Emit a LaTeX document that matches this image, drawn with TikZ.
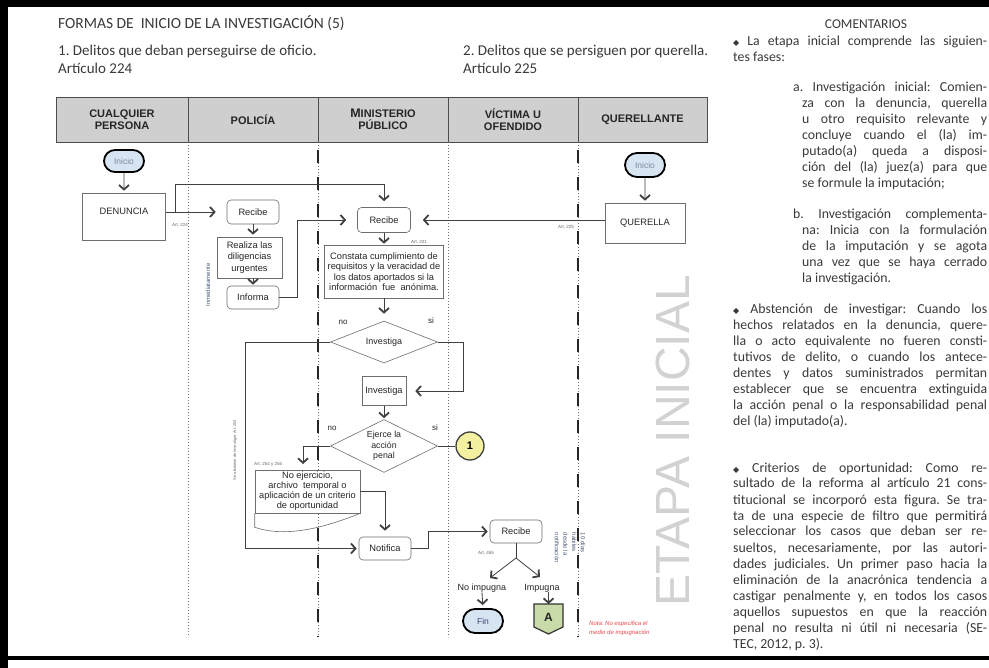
\documentclass[tikz,border=0pt]{standalone}
\usepackage{fontspec}
\setmainfont{Liberation Sans}
\newfontfamily\gill{Carlito}
\newfontfamily\dejavu{DejaVu Sans}
\usetikzlibrary{arrows.meta,shapes.geometric,shapes.misc,calc}
\frenchspacing

\definecolor{hdrgray}{HTML}{CFCFCF}
\definecolor{pillblue}{HTML}{D7E4F2}
\definecolor{inktxt}{HTML}{3A3A3A}
\definecolor{boxline}{HTML}{6E6E6E}
\definecolor{cyellow}{HTML}{F3F0A2}
\definecolor{agreen}{HTML}{C8DBA9}
\definecolor{notered}{HTML}{E8484F}
\definecolor{rotblue}{HTML}{4A5A7A}
\definecolor{pilltxt}{HTML}{7D8BA2}
\definecolor{watermark}{HTML}{D2D2D2}

\newcommand{\bul}{{\dejavu\fontsize{8}{8}\selectfont\char"25C6}}
\newcommand{\jline}[4]{\node[cmt, anchor=base west] (#1) at (#2) {\makebox[#3][s]{#4}};}
\newcommand{\fline}[3]{\node[cmt, anchor=base west] (#1) at (#2) {#3};}

\tikzset{
  hdr/.style={draw=black!70, line width=0.7pt, fill=hdrgray, minimum height=45pt,
    inner sep=0pt, align=center, font=\bfseries\fontsize{11}{12}\selectfont, text=black!85},
  box/.style={draw=boxline, line width=0.6pt, fill=white, inner sep=1pt, align=center,
    font=\fontsize{9.3}{10.5}\selectfont, text=black!85},
  rbox/.style={box, rounded corners=4pt},
  pill/.style={rounded rectangle, draw=black, line width=1.8pt, fill=pillblue,
    minimum width=40pt, minimum height=22pt, inner sep=0pt,
    font=\fontsize{8.5}{9}\selectfont, text=pilltxt},
  dia/.style={diamond, draw=boxline, line width=0.6pt, fill=white, inner sep=0pt},
  lbl/.style={inner sep=0pt, align=center, font=\fontsize{9}{10.5}\selectfont, text=black!85},
  tiny/.style={inner sep=0pt, font=\fontsize{4.5}{5}\selectfont, text=black!60},
  rot/.style={inner sep=0pt, align=left, font=\fontsize{6}{8.7}\selectfont, text=rotblue},
  flow/.style={draw=black!75, line width=0.8pt},
  arr/.style={flow, -{Straight Barb[length=4.5pt, width=10pt, line width=1.8pt]}},
  lanedot/.style={draw=black!55, line width=0.7pt, dash pattern=on 0.8pt off 2.2pt},
  lanedash/.style={draw=black!85, line width=2pt, dash pattern=on 13pt off 14pt},
  gtext/.style={inner sep=0pt, font=\gill\fontsize{15.5}{17}\selectfont, text=inktxt},
  stext/.style={inner sep=0pt, font=\gill\fontsize{15}{16}\selectfont, text=inktxt},
  cmt/.style={inner sep=0pt, font=\gill\fontsize{13.8}{15}\selectfont, text=inktxt},
}

\begin{document}
\begin{tikzpicture}[x=1pt,y=-1pt]
\useasboundingbox (0,0) rectangle (989,668);
\fill[white] (0,0) rectangle (989,668);

% page frame
\fill[black] (0,0) rectangle (989,7);
\fill[black] (0,0) rectangle (8,668);
\fill[black] (0,656) rectangle (989,660);

% headings
\node[gtext, anchor=base west] (title) at (58,29) {FORMAS DE \ INICIO DE LA INVESTIGACIÓN (5)};
\node[stext, anchor=base west] (sub1) at (58,56) {1. Delitos que deban perseguirse de oficio.};
\node[stext, anchor=base west] (sub1b) at (58,74) {Artículo 224};
\node[stext, anchor=base west] (sub2) at (463,56) {2. Delitos que se persiguen por querella.};
\node[stext, anchor=base west] (sub2b) at (463,74) {Artículo 225};
\node[cmt, anchor=base, font=\gill\fontsize{13.5}{15}\selectfont] (coment) at (866,29) {COMENTARIOS};

% watermark
\node[rotate=90, inner sep=0pt, font=\fontsize{48}{48}\selectfont, text=watermark] (etapa) at (673,441) {ETAPA INICIAL};

% swimlane header
\node[hdr, minimum width=132pt] (hA) at (122,119.5) {CUALQUIER\\PERSONA};
\node[hdr, minimum width=130pt] (hB) at (253,119.5) {POLICÍA};
\node[hdr, minimum width=130pt] (hC) at (383,119.5) {{\fontsize{12.5}{12}\selectfont M}INISTERIO\\PÚBLICO};
\node[hdr, minimum width=130pt] (hD) at (513,119.5) {VÍCTIMA U\\OFENDIDO};
\node[hdr, minimum width=129pt] (hE) at (642.5,119.5) {QUERELLANTE};

% lane separators
\draw[lanedot] (188,142) -- (188,637);
\draw[lanedot] (448,142) -- (448,637);
\draw[lanedot] (318,142) -- (318,637);
\draw[lanedash] (318,150) -- (318,637);
\draw[lanedot] (578,142) -- (578,637);
\draw[lanedash] (578,150) -- (578,637);

% rotated notes
\node[rot, rotate=90] (inmed) at (208,285) {Inmediatamente};
\node[tiny, rotate=90, font=\fontsize{4}{5}\selectfont] (abst) at (235,450) {Se abstiene de investigar Art. 253};
\node[rot, rotate=-90] (plazo) at (570,548) {10 días\\hábiles\\desde la\\notificación};

% nodes
\node[pill] (iniA) at (124,161) {Inicio};
\node[box, minimum width=83pt, minimum height=47pt] (denuncia) at (124,216.5) {DENUNCIA\\\phantom{D}};
\node[rbox, minimum width=52pt, minimum height=24pt] (recP) at (253,212) {Recibe};
\node[box, minimum width=65pt, minimum height=41pt, font=\fontsize{9.3}{11.3}\selectfont] (realiza) at (249.5,257.5) {Realiza las\\diligencias\\urgentes};
\node[rbox, minimum width=52pt, minimum height=23pt] (informa) at (253,297.5) {Informa};
\node[rbox, minimum width=53pt, minimum height=25pt] (recMP) at (384,220) {Recibe};
\node[box, minimum width=119pt, minimum height=53pt, font=\fontsize{9.3}{10.4}\selectfont] (constata) at (384,271.5) {Constata cumplimiento de\\requisitos y la veracidad de\\los datos aportados si la\\información \ fue \ anónima.};
\node[pill, minimum height=24pt] (iniQ) at (645,165) {Inicio};
\node[box, minimum width=80pt, minimum height=40pt] (querella) at (645,223) {QUERELLA};

\node[dia, minimum width=107pt, minimum height=42pt] (d1) at (384,342) {};
\node[lbl] (d1t) at (d1) {Investiga};
\node[box, minimum width=44pt, minimum height=29pt] (inv) at (384,391) {Investiga};
\node[dia, minimum width=107pt, minimum height=53pt] (d2) at (384,446) {};
\node[lbl, font=\fontsize{8.8}{10.5}\selectfont] (d2t) at (d2) {Ejerce la\\acción\\penal};
\node[circle, draw=black!75, line width=1.3pt, fill=cyellow, minimum size=28pt, inner sep=0pt,
  font=\bfseries\fontsize{11}{11}\selectfont] (c1) at (470,446) {1};

\node[box, minimum width=105pt, minimum height=43pt, font=\fontsize{9.2}{10}\selectfont] (noej) at (307.5,491.5) {No ejercicio,\\archivo \ temporal o\\aplicación de un criterio\\de oportunidad};
\draw[draw=boxline, line width=0.6pt] (noej.south west) -- ++(0,14)
  .. controls ++(30,10) and ++(-40,16) .. (noej.south east);

\node[rbox, minimum width=52pt, minimum height=23pt] (notif) at (385,548.5) {Notifica};
\node[rbox, minimum width=52pt, minimum height=23pt] (recV) at (516,531.5) {Recibe};
\coordinate (split) at (516,558);
\coordinate (tipL) at (490,578);
\coordinate (tipR) at (540,577);
\node[lbl] (noimp) at (482,588) {No impugna};
\node[lbl] (imp) at (542,588) {Impugna};
\node[pill, minimum height=24pt, text=black!60!blue!50!gray] (fin) at (483,621) {Fin};
\draw[draw=black!80, line width=1.2pt, fill=agreen] (534,604) -- (563,604) -- (563,627) -- (548.5,634) -- (534,627) -- cycle;
\coordinate (Atop) at (548.5,604);
\node[inner sep=0pt, font=\bfseries\fontsize{12}{12}\selectfont, text=black!85] (conA) at (548.5,617) {A};

% small references
\node[tiny, anchor=west] (art224) at (172,225) {Art. 224};
\node[tiny] (art221) at (419,242) {Art. 221};
\node[tiny, anchor=east] (art225) at (574,227) {Art. 225};
\node[tiny, anchor=west] (art254) at (254,464) {Art. 254 y 255};
\node[tiny] (art455) at (486,553) {Art. 455};

% yes / no labels
\node[lbl, font=\fontsize{8}{9}\selectfont] (no1) at (343,322) {no};
\node[lbl, font=\fontsize{8}{9}\selectfont] (si1) at (431,321) {si};
\node[lbl, font=\fontsize{8}{9}\selectfont] (no2) at (332,428) {no};
\node[lbl, font=\fontsize{8}{9}\selectfont] (si2) at (435,428) {si};

\node[anchor=north west, inner sep=0pt, align=left, font=\itshape\fontsize{6}{8.5}\selectfont, text=notered] (nota) at (589,621) {Nota: No especifica el\\medio de impugnación};

% connectors
\coordinate (br) at (175,212);
\coordinate (brtop) at (175,184);
\draw[arr, shorten >=2pt] (iniA) -- (denuncia);
\draw[arr, shorten >=11pt] (denuncia.east |- recP) -- (recP.west);
\draw[arr, shorten >=6pt] (br) -- (brtop) -| (recMP.north);
\draw[arr, shorten >=2pt] (recP.south) -- (recP.south |- realiza.north);
\draw[arr, shorten >=1pt] (realiza.south -| informa) -- (informa.north);
\draw[arr, shorten >=11pt] (informa.east) -- ++(18,0) |- (recMP.west);
\draw[arr, shorten >=2pt] (iniQ) -- (querella);
\draw[arr, shorten >=12pt] (querella.west |- recMP) -- (recMP.east);
\draw[arr, shorten >=1pt] (recMP) -- (constata);
\draw[arr, shorten >=7pt] (constata) -- (d1);
\draw[arr, shorten >=9pt] (d1.east) -- ++(26,0) |- (inv.east);
\draw[arr, shorten >=1pt] (inv) -- (d2);
\draw[flow] (d2.east) -- (c1.west);
\coordinate (noejin) at (303,470);
\draw[arr, shorten >=6pt] (d2.west) -| (noejin);
\draw[arr, shorten >=2pt] (d1.west) -- ++(-85,0) |- (notif.west);
\draw[arr, shorten >=6pt] (noej.east) -| (notif.north);
\draw[arr, shorten >=2pt] (notif.east) -- ++(17,0) |- (recV.west);
\draw[flow] (recV.south) -- (split);
\draw[arr] (split) -- (tipL);
\draw[arr] (split) -- (tipR);
\draw[arr, shorten >=3pt] (noimp.south) -- (fin.north);
\draw[arr] (imp.south -| Atop) -- (Atop);

% commentary column
\jline{ca1}{733,46}{254pt}{\bul\ La etapa inicial comprende las siguien-}
\fline{ca2}{733,62}{tes fases:}
\jline{ca3}{793,92}{194pt}{a. Investigación inicial: Comien-}
\jline{ca4}{802,108}{185pt}{za con la denuncia, querella}
\jline{ca5}{802,124}{185pt}{u otro requisito relevante y}
\jline{ca6}{802,140}{185pt}{concluye cuando el (la) im-}
\jline{ca7}{802,156}{185pt}{putado(a) queda a disposi-}
\jline{ca8}{802,172}{185pt}{ción del (la) juez(a) para que}
\fline{ca9}{802,188}{se formule la imputación;}
\jline{cb1}{793,219}{194pt}{b. Investigación complementa-}
\jline{cb2}{802,235}{185pt}{na: Inicia con la formulación}
\jline{cb3}{802,251}{185pt}{de la imputación y se agota}
\jline{cb4}{802,267}{185pt}{una vez que se haya cerrado}
\fline{cb5}{802,283}{la investigación.}
\jline{cc1}{733,314}{254pt}{\bul\ Abstención de investigar: Cuando los}
\jline{cc2}{733,330}{254pt}{hechos relatados en la denuncia, quere-}
\jline{cc3}{733,346}{254pt}{lla o acto equivalente no fueren consti-}
\jline{cc4}{733,362}{254pt}{tutivos de delito, o cuando los antece-}
\jline{cc5}{733,378}{254pt}{dentes y datos suministrados permitan}
\jline{cc6}{733,394}{254pt}{establecer que se encuentra extinguida}
\jline{cc7}{733,410}{254pt}{la acción penal o la responsabilidad penal}
\fline{cc8}{733,426}{del (la) imputado(a).}
\jline{cd1}{733,472}{254pt}{\bul\ Criterios de oportunidad: Como re-}
\jline{cd2}{733,488}{254pt}{sultado de la reforma al artículo 21 cons-}
\jline{cd3}{733,504}{254pt}{titucional se incorporó esta figura. Se tra-}
\jline{cd4}{733,520}{254pt}{ta de una especie de filtro que permitirá}
\jline{cd5}{733,536}{254pt}{seleccionar los casos que deban ser re-}
\jline{cd6}{733,552}{254pt}{sueltos, necesariamente, por las autori-}
\jline{cd7}{733,568}{254pt}{dades judiciales. Un primer paso hacia la}
\jline{cd8}{733,584}{254pt}{eliminación de la anacrónica tendencia a}
\jline{cd9}{733,600}{254pt}{castigar penalmente y, en todos los casos}
\jline{cd10}{733,616}{254pt}{aquellos supuestos en que la reacción}
\jline{cd11}{733,632}{254pt}{penal no resulta ni útil ni necesaria (SE-}
\fline{cd12}{733,648}{TEC, 2012, p. 3).}
\end{tikzpicture}
\end{document}
